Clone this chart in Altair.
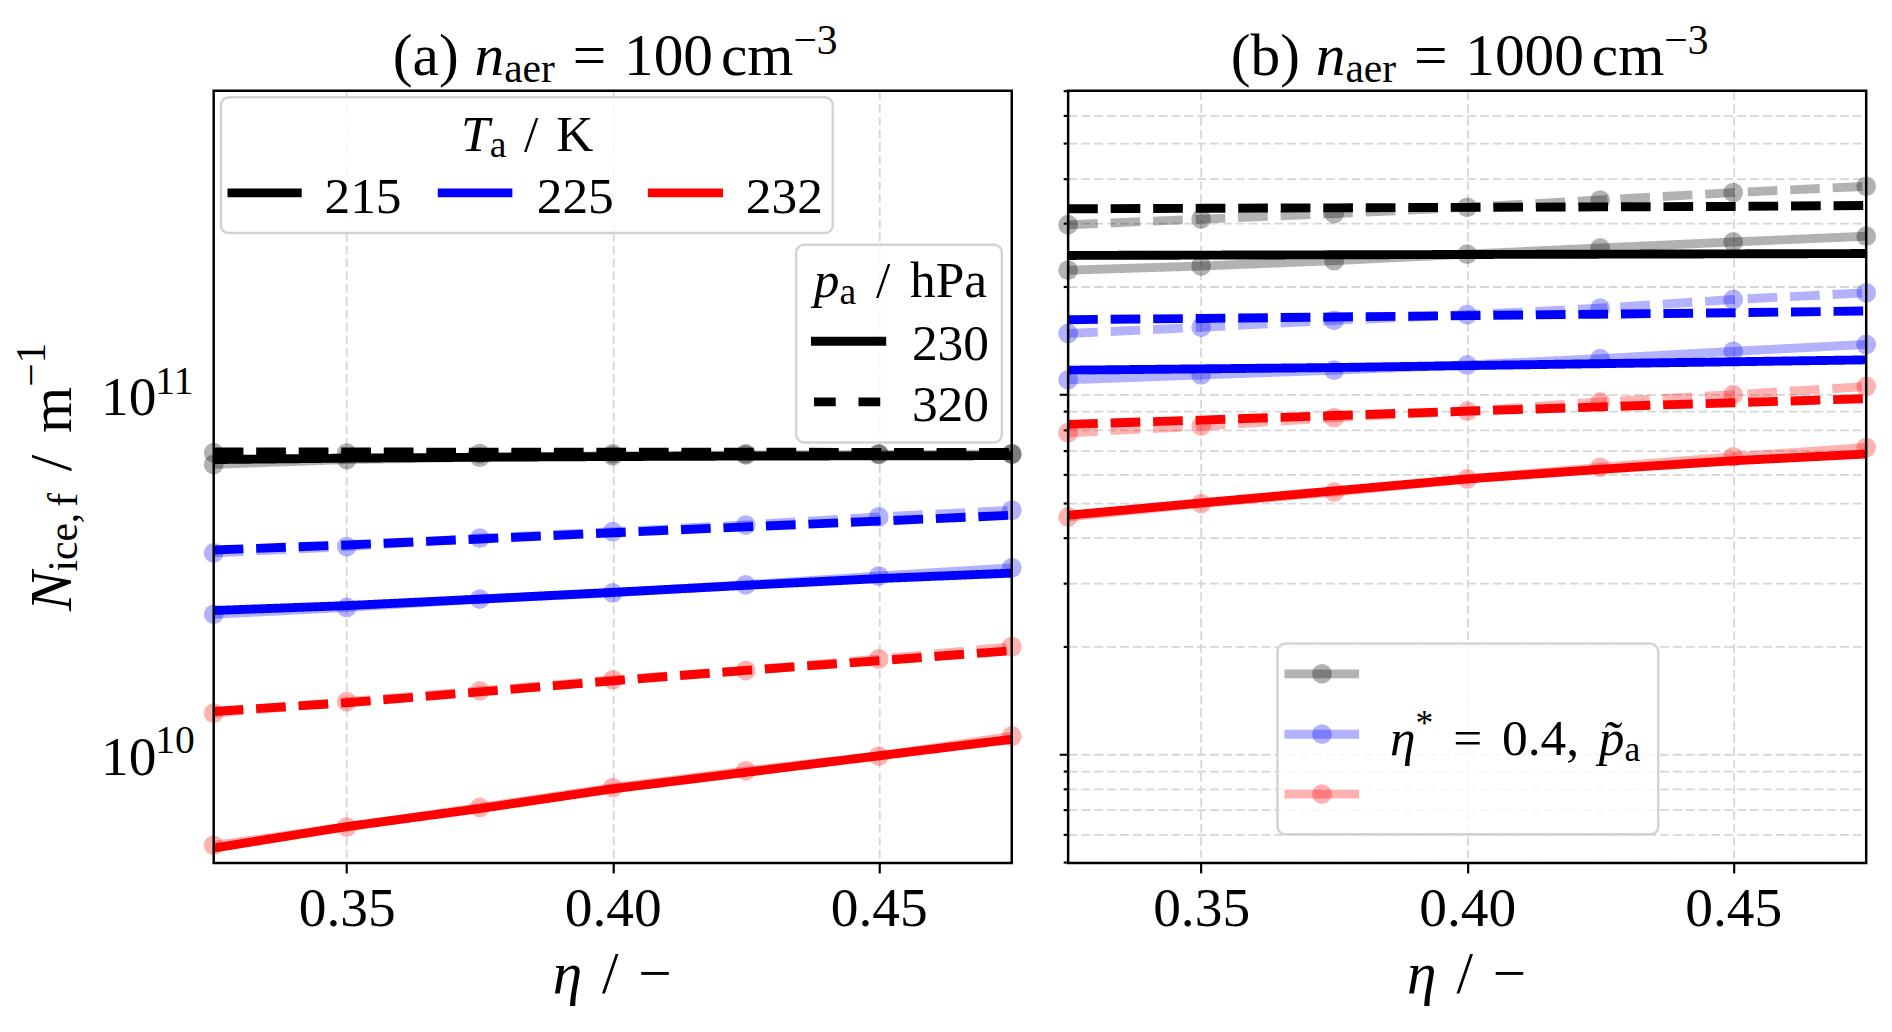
import altair as alt
import pandas as pd

FONT = "Liberation Serif"
W, H = 807, 781

ETA = [0.325, 0.35, 0.375, 0.40, 0.425, 0.45, 0.475]
T_LEVELS = ["215", "225", "232"]
T_COLORS = ["#000000", "#0000ff", "#ff0000"]
P_LEVELS = ["230", "320"]
X_TICKS = [0.35, 0.40, 0.45]
Y_TICKS = [5e9, 6e9, 7e9, 8e9, 9e9,
           1e10, 2e10, 3e10, 4e10, 5e10, 6e10, 7e10, 8e10, 9e10,
           1e11, 2e11, 3e11, 4e11, 5e11, 6e11, 7e11]
Y_LABELS = [1e10, 1e11]
Y_EXP = ["10", "11"]

# (a) n_aer = 100 cm-3, bold lines
A_215_230 = [6.60e10, 6.66e10, 6.70e10, 6.73e10, 6.75e10, 6.76e10, 6.77e10]
A_215_320 = [6.93e10, 6.93e10, 6.92e10, 6.92e10, 6.92e10, 6.91e10, 6.91e10]
A_225_230 = [2.51e10, 2.59e10, 2.70e10, 2.82e10, 2.95e10, 3.08e10, 3.19e10]
A_225_320 = [3.70e10, 3.82e10, 3.97e10, 4.13e10, 4.29e10, 4.45e10, 4.62e10]
A_232_230 = [5.48e9, 6.29e9, 7.06e9, 8.01e9, 8.90e9, 9.90e9, 1.10e10]
A_232_320 = [1.315e10, 1.39e10, 1.49e10, 1.60e10, 1.71e10, 1.82e10, 1.94e10]
# (a) eta* = 0.4, p~a (faint, with markers)
AF_215_230 = [6.40e10, 6.60e10, 6.70e10, 6.76e10, 6.80e10, 6.82e10, 6.83e10]
AF_215_320 = [6.90e10, 6.88e10, 6.86e10, 6.85e10, 6.85e10, 6.85e10, 6.85e10]
AF_225_230 = [2.45e10, 2.56e10, 2.70e10, 2.81e10, 2.96e10, 3.13e10, 3.30e10]
AF_225_320 = [3.63e10, 3.78e10, 3.99e10, 4.16e10, 4.34e10, 4.57e10, 4.77e10]
AF_232_230 = [5.58e9, 6.27e9, 7.11e9, 8.07e9, 8.99e9, 9.88e9, 1.122e10]
AF_232_320 = [1.30e10, 1.40e10, 1.50e10, 1.61e10, 1.71e10, 1.84e10, 1.99e10]

# (b) n_aer = 1000 cm-3, bold lines
B_215_230 = [2.44e11, 2.445e11, 2.45e11, 2.455e11, 2.46e11, 2.465e11, 2.47e11]
B_215_320 = [3.29e11, 3.30e11, 3.31e11, 3.32e11, 3.33e11, 3.34e11, 3.36e11]
B_225_230 = [1.17e11, 1.18e11, 1.19e11, 1.205e11, 1.22e11, 1.235e11, 1.25e11]
B_225_320 = [1.617e11, 1.63e11, 1.645e11, 1.66e11, 1.675e11, 1.69e11, 1.71e11]
B_232_230 = [4.62e10, 5.00e10, 5.40e10, 5.83e10, 6.20e10, 6.55e10, 6.84e10]
B_232_320 = [8.27e10, 8.50e10, 8.75e10, 9.00e10, 9.25e10, 9.50e10, 9.75e10]
# (b) eta* = 0.4, p~a (faint, with markers)
BF_215_230 = [2.22e11, 2.28e11, 2.36e11, 2.46e11, 2.56e11, 2.66e11, 2.76e11]
BF_215_320 = [2.97e11, 3.08e11, 3.19e11, 3.32e11, 3.48e11, 3.65e11, 3.80e11]
BF_225_230 = [1.10e11, 1.135e11, 1.17e11, 1.21e11, 1.26e11, 1.32e11, 1.38e11]
BF_225_320 = [1.48e11, 1.54e11, 1.61e11, 1.67e11, 1.74e11, 1.84e11, 1.92e11]
BF_232_230 = [4.57e10, 4.98e10, 5.36e10, 5.83e10, 6.28e10, 6.72e10, 7.13e10]
BF_232_320 = [7.84e10, 8.18e10, 8.63e10, 9.00e10, 9.55e10, 1.00e11, 1.054e11]

ONE = pd.DataFrame({"k": [0]})
LW = 9
DASH = [30, 13]
MARK = 400

# advance widths of the serif font (per 1000 em), used to chain rich-text pieces
ROMAN = {" ": 250, "(": 333, ")": 333, "a": 444, "b": 500, "c": 444, "e": 444, "f": 333,
         "h": 500, "i": 278, "m": 778, "r": 333, "K": 722, "P": 556, ".": 250, ",": 250,
         "/": 278, "=": 564, "−": 564, "*": 500, "\u0303": 0}
ITALIC = {"n": 500, "T": 556, "p": 500, "N": 667, "η": 500, "\u0303": 0}


def frame(series):
    rows = []
    for (t, p), vals in series.items():
        for e, v in zip(ETA, vals):
            rows.append({"eta": e, "N": v, "T": t, "p": p})
    return pd.DataFrame(rows)


x_scale = alt.Scale(domain=[0.325, 0.475], nice=False, zero=False)
y_scale = alt.Scale(type="log", domain=[4.98e9, 7.01e11], nice=False)
color = alt.Color("T:N", scale=alt.Scale(domain=T_LEVELS, range=T_COLORS), legend=None)
dash = alt.StrokeDash("p:N", scale=alt.Scale(domain=P_LEVELS, range=[[1, 0], DASH]), legend=None)

x_axis = alt.Axis(values=X_TICKS, format=".2f", title=None, grid=True, gridDash=[9, 4],
                  gridColor="#d6d6d6", gridWidth=1.8, domain=False, tickSize=10, tickWidth=2.2,
                  tickColor="black", labelFont=FONT, labelFontSize=56, labelColor="black",
                  labelPadding=9)
y_axis = alt.Axis(values=Y_TICKS, labels=False, title=None, grid=True, gridDash=[9, 4],
                  gridColor="#d6d6d6", gridWidth=1.8, domain=False, tickWidth=2.2, tickColor="black",
                  tickSize={"condition": {"test": "datum.value == 1e10 || datum.value == 1e11",
                                          "value": 9}, "value": 5})


def txt(s, x, y, size=58, style="normal", angle=0):
    return alt.Chart(ONE).mark_text(
        text=s, font=FONT, fontSize=size, fontStyle=style, align="left",
        baseline="alphabetic", angle=angle, color="black"
    ).encode(x=alt.value(x), y=alt.value(y))


def seg_w(s, size, italic):
    tab = ITALIC if italic else ROMAN
    return sum(tab.get(ch, 500) for ch in s) * size / 1000


def rich(parts, cx, cy, angle=0):
    # parts: (text, size, italic, baseline shift) or a number = extra gap in px
    widths = [p if isinstance(p, (int, float)) else seg_w(p[0], p[1], p[2]) for p in parts]
    pos = -sum(widths) / 2
    out = []
    for p, w in zip(parts, widths):
        if not isinstance(p, (int, float)):
            s, size, italic, shift = p
            style = "italic" if italic else "normal"
            if angle == 270:
                out.append(txt(s, cx + shift, cy - pos, size, style, 270))
            else:
                out.append(txt(s, cx + pos, cy + shift, size, style))
        pos += w
    return out


def box(x1, x2, y1, y2):
    return alt.Chart(ONE).mark_rect(
        fill="white", fillOpacity=0.8, stroke="#d3d3d3", strokeWidth=2.5, cornerRadius=8
    ).encode(x=alt.value(x1), x2=alt.value(x2), y=alt.value(y1), y2=alt.value(y2))


def handle(x1, x2, y, col, dash_=None, opacity=1.0):
    kw = {"strokeDash": dash_} if dash_ else {}
    return alt.Chart(ONE).mark_rule(color=col, strokeWidth=LW, opacity=opacity, **kw).encode(
        x=alt.value(x1), x2=alt.value(x2), y=alt.value(y))


def border():
    return alt.Chart(ONE).mark_rect(filled=False, stroke="black", strokeWidth=2.5).encode(
        x=alt.value(0), x2=alt.value(W), y=alt.value(0), y2=alt.value(H))


def spacer(x1, y1):
    # invisible block that fixes how much room sits left of / above the plot area
    return alt.Chart(ONE).mark_rect(opacity=0).encode(
        x=alt.value(x1), x2=alt.value(0), y=alt.value(y1), y2=alt.value(0))


def data_layers(bold, faint):
    enc = dict(x=alt.X("eta:Q", scale=x_scale, axis=x_axis),
               y=alt.Y("N:Q", scale=y_scale, axis=y_axis), color=color)
    faint_lines = alt.Chart(faint).mark_line(strokeWidth=LW, opacity=0.3).encode(strokeDash=dash, **enc)
    faint_pts = alt.Chart(faint).mark_circle(size=MARK, opacity=0.3).encode(**enc)
    bold_lines = alt.Chart(bold).mark_line(strokeWidth=LW).encode(strokeDash=dash, **enc)
    return [faint_lines, faint_pts, bold_lines]


def x_title():
    return rich([("η", 60, True, 0), 20, ("/", 60, False, 0), 20, ("−", 60, False, 0)], 403, 912)


def panel_title(label, number):
    return rich([(label, 60, False, 0), 16, ("n", 60, True, 0), ("aer", 42, False, 7), 18,
                 ("=", 60, False, 0), 18, (number, 60, False, 0), 8, ("cm", 60, False, 0),
                 ("−3", 42, False, -21)], 406, -16)


bold_a = frame({("215", "230"): A_215_230, ("215", "320"): A_215_320,
                ("225", "230"): A_225_230, ("225", "320"): A_225_320,
                ("232", "230"): A_232_230, ("232", "320"): A_232_320})
faint_a = frame({("215", "230"): AF_215_230, ("215", "320"): AF_215_320,
                 ("225", "230"): AF_225_230, ("225", "320"): AF_225_320,
                 ("232", "230"): AF_232_230, ("232", "320"): AF_232_320})
bold_b = frame({("215", "230"): B_215_230, ("215", "320"): B_215_320,
                ("225", "230"): B_225_230, ("225", "320"): B_225_320,
                ("232", "230"): B_232_230, ("232", "320"): B_232_320})
faint_b = frame({("215", "230"): BF_215_230, ("215", "320"): BF_215_320,
                 ("225", "230"): BF_225_230, ("225", "320"): BF_225_320,
                 ("232", "230"): BF_232_230, ("232", "320"): BF_232_320})

# y tick labels 10^10, 10^11 drawn through the y scale
ylab = pd.DataFrame({"N": Y_LABELS, "e": Y_EXP})
ylab_base = alt.Chart(ylab).mark_text(font=FONT, fontSize=56, align="left", baseline="alphabetic",
                                      dy=21, text="10", color="black").encode(
    y=alt.Y("N:Q", scale=y_scale, axis=None), x=alt.value(-114))
ylab_exp = alt.Chart(ylab).mark_text(font=FONT, fontSize=40, align="left", baseline="alphabetic",
                                     dy=-1, color="black").encode(
    y=alt.Y("N:Q", scale=y_scale, axis=None), x=alt.value(-59), text="e:N")

y_title = rich([("N", 60, True, 0), ("ice,", 42, False, 6), 6, ("f", 42, False, 6), 22,
                ("/", 60, False, 0), 22, ("m", 60, False, 0), ("−1", 42, False, -27)],
               -144, 390.5, angle=270)

# legend: temperature
leg_t = [box(7.3, 626, 6.7, 144)]
leg_t += rich([("T", 52, True, 0), ("a", 38, False, 6), 18, ("/", 52, False, 0), 18,
               ("K", 52, False, 0)], 317, 60.7)
for (x1, x2, xl), t, c in zip([(14, 89, 112), (226.6, 302, 326.6), (439, 515, 538)], T_LEVELS, T_COLORS):
    leg_t += [handle(x1, x2, 103.3, c), txt(t, xl, 124, size=52)]

# legend: pressure
leg_p = [box(589, 797, 155.7, 355.7)]
leg_p += rich([("p", 52, True, 0), ("a", 38, False, 7), 20, ("/", 52, False, 0), 20,
               ("hPa", 52, False, 0)], 694.5, 209)
leg_p += [handle(604, 680, 253.3, "black"), txt(P_LEVELS[0], 706, 272, size=52),
          handle(607, 674, 314.7, "black", dash_=[22, 23]), txt(P_LEVELS[1], 706, 334, size=52)]

# legend: eta* = 0.4, p~a
leg_e = [box(211.7, 596.7, 559, 752)]
for yy, c in zip([589.7, 650.7, 711.3], T_COLORS):
    leg_e += [handle(218.7, 294.2, yy, c, opacity=0.3),
              alt.Chart(ONE).mark_circle(size=MARK, opacity=0.3, color=c).encode(
                  x=alt.value(256.7), y=alt.value(yy))]
leg_e += rich([("η", 52, True, 0), ("*", 36, False, -20), 20, ("=", 52, False, 0), 20,
               ("0.4,", 52, False, 0), 20, ("p\u0303", 52, True, 0), ("a", 36, False, 7)],
              452, 671.3)

panel_a = alt.layer(
    spacer(-208, -78), *data_layers(bold_a, faint_a), ylab_base, ylab_exp, *y_title,
    *panel_title("(a)", "100"), *x_title(), *leg_t, *leg_p, border()
).properties(width=W, height=H)

panel_b = alt.layer(
    spacer(-39, -78), *data_layers(bold_b, faint_b), *panel_title("(b)", "1000"), *x_title(),
    *leg_e, border()
).properties(width=W, height=H)

chart = alt.hconcat(panel_a, panel_b, spacing=0).configure_view(
    strokeWidth=0
).properties(background="white", padding=0)

chart.save("out.html", embed_options={"renderer": "svg", "actions": False})
